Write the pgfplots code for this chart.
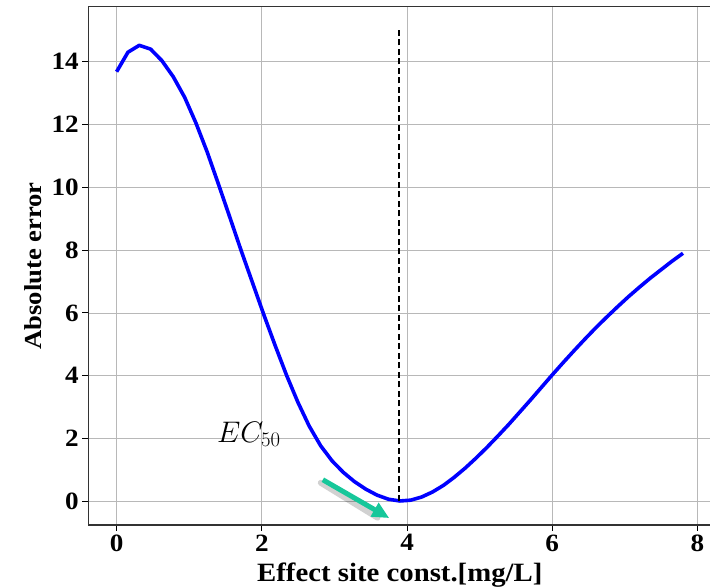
\documentclass[border=0pt]{standalone}
\usepackage{pgfplots}
\pgfplotsset{compat=1.18}
\usepackage{fontspec}
\setmainfont{Liberation Serif}[FakeStretch=1.09]
\usetikzlibrary{arrows.meta}

\definecolor{gridgray}{HTML}{B8B8B8}
\definecolor{spinegray}{HTML}{333333}
\definecolor{arrowgreen}{RGB}{22,199,154}

\begin{document}
\begin{tikzpicture}
\begin{axis}[
  scale only axis,
  width=623bp,
  height=518.3bp,
  xmin=-0.39, xmax=8.19,
  ymin=-0.75, ymax=15.75,
  xtick={0,2,4,6,8},
  ytick={0,2,...,14},
  grid=major,
  grid style={color=gridgray, line width=0.9bp},
  axis line style={draw=none},
  tick pos=left,
  tick align=outside,
  major tick length=6bp,
  tick style={color=black, line width=1bp},
  /pgf/number format/assume math mode=true,
  ticklabel style={font=\fontsize{25}{25}\selectfont\bfseries},
  xlabel={Effect site const.[mg/L]},
  ylabel={Absolute error},
  xlabel style={font=\fontsize{26.5}{26.5}\selectfont\bfseries,
    at={(rel axis cs:0.5,0)}, anchor=base, yshift=-57bp},
  ylabel style={font=\fontsize{24.5}{24.5}\selectfont\bfseries,
    at={(rel axis cs:0,0.5)}, anchor=center, yshift=55bp},
  clip=false,
]
% error curve
\addplot[blue, line width=3.6bp, line join=round] coordinates {
(0.000,13.68) (0.156,14.30) (0.312,14.52) (0.468,14.40) (0.624,14.03)
(0.780,13.52) (0.936,12.87) (1.092,12.05) (1.248,11.12) (1.404,10.09)
(1.560,9.04) (1.716,7.98) (1.872,6.96) (2.028,5.94) (2.184,4.96)
(2.340,4.02) (2.496,3.16) (2.652,2.40) (2.808,1.78) (2.964,1.30)
(3.120,0.93) (3.276,0.63) (3.432,0.39) (3.588,0.20) (3.744,0.07)
(3.900,0.015) (4.05,0.04) (4.20,0.14) (4.35,0.30) (4.50,0.51)
(4.65,0.77) (4.80,1.06) (4.95,1.38) (5.10,1.72) (5.25,2.08)
(5.40,2.45) (5.55,2.84) (5.70,3.23) (5.85,3.63) (6.00,4.03)
(6.15,4.42) (6.30,4.80) (6.45,5.17) (6.60,5.53) (6.75,5.87)
(6.90,6.20) (7.05,6.52) (7.20,6.82) (7.35,7.11) (7.50,7.38)
(7.65,7.65) (7.80,7.90)
};
% EC50 marker line
\addplot[black, line width=1.8bp, dash pattern=on 6bp off 3.5bp] coordinates {(3.89,0) (3.89,15)};

\node[anchor=base west, font=\fontsize{24}{24}\selectfont, scale=1.2, transform shape, inner sep=0pt] at (axis cs:1.38,1.88) {$EC_{50}$};

\draw[black, opacity=0.18, line width=6bp, line cap=round] ([shift={(-2bp,-3bp)}]axis cs:2.84,0.69) -- ([shift={(-2bp,-3bp)}]axis cs:3.62,-0.42);
\draw[arrowgreen, line width=5bp, -{Triangle[length=17bp,width=15bp]}] (axis cs:2.84,0.69) -- (axis cs:3.755,-0.53);

\draw[spinegray, line width=1.3bp] (rel axis cs:0,1) -- (rel axis cs:0,0) -- (rel axis cs:1,0);
\draw[spinegray, line width=1.3bp] (rel axis cs:0,1) -- (rel axis cs:1,1);

\coordinate (sw) at (rel axis cs:0,0);
\coordinate (ne) at (rel axis cs:1,1);
\end{axis}
\pgfresetboundingbox
\path[use as bounding box] ([shift={(-88.3bp,-62bp)}]sw) rectangle ([shift={(-1.3bp,6.7bp)}]ne);
\end{tikzpicture}
\end{document}
